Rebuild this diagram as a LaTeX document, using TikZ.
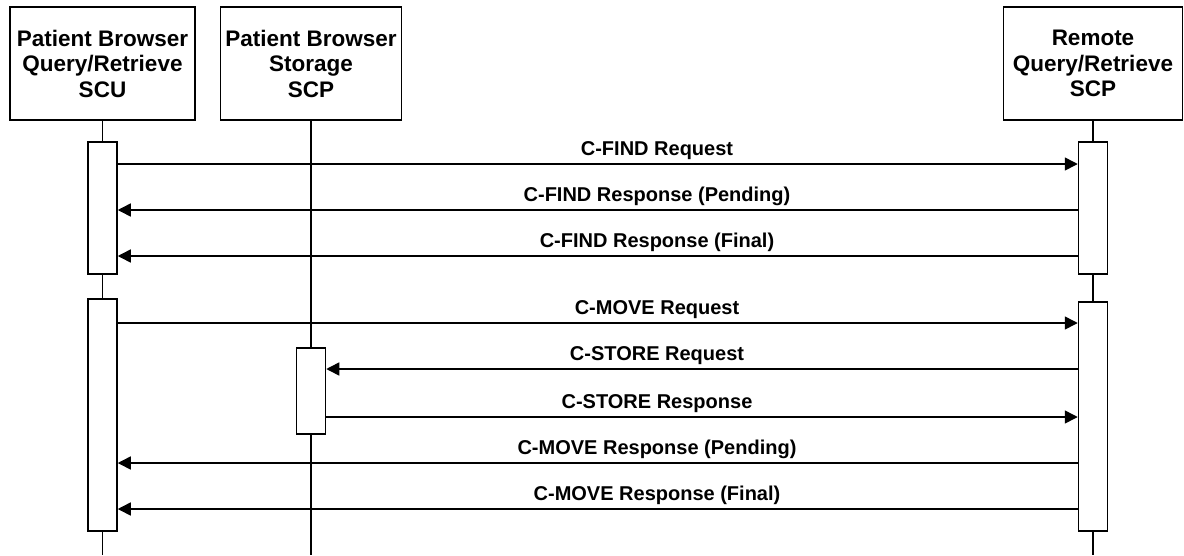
\documentclass[tikz,border=0pt]{standalone}
\usepackage{fontspec}
\setmainfont{Liberation Sans}
\usetikzlibrary{arrows.meta}

\begin{document}
\begin{tikzpicture}[
              x=1pt, y=-1pt,
              line width=1.5pt,
              actor/.style={
                  draw,
                  rectangle,
                  minimum height=113pt,
                  inner sep=0pt,
                  align=center,
                  font=\fontsize{22.5}{25.5}\selectfont\bfseries,
                },
              act/.style={draw, fill=white, minimum width=29pt, inner sep=0pt},
              msg/.style={-{Triangle[length=13pt,width=13pt]}},
              msglabel/.style={anchor=base, inner sep=0pt, font=\fontsize{20}{24}\selectfont\bfseries}
            ]
            \useasboundingbox (0,0) rectangle (1184,555);
            \node[actor,minimum width=185pt] (scu) at (102.5,63.5) {Patient Browser\\Query/Retrieve\\SCU};
            \node[actor,minimum width=181pt] (store) at (311,63.5) {Patient Browser\\Storage\\SCP};
            \node[actor,minimum width=179pt] (remote) at (1093,63.5) {Remote\\Query/Retrieve\\SCP};
            \foreach \Name in {scu,store,remote}
            \draw (\Name.south) -- (\Name.south |- 0,555);
            \node[act,minimum height=132pt] (scuA) at (scu |- 0,208) {};
            \node[act,minimum height=232pt] (scuB) at (scu |- 0,415) {};
            \node[act,minimum height=86pt] (storeA) at (store |- 0,391) {};
            \node[act,minimum height=132pt] (remA) at (remote |- 0,208) {};
            \node[act,minimum height=229pt] (remB) at (remote |- 0,416.5) {};
            \foreach \Src/\Dst/\Y/\Text in {
                scuA.east/remA.west/164/C-FIND Request,
                remA.west/scuA.east/210/C-FIND Response (Pending),
                remA.west/scuA.east/256/C-FIND Response (Final),
                scuB.east/remB.west/323/C-MOVE Request,
                remB.west/storeA.east/369/C-STORE Request,
                storeA.east/remB.west/417/C-STORE Response,
                remB.west/scuB.east/463/C-MOVE Response (Pending),
                remB.west/scuB.east/509/C-MOVE Response (Final)}
            {
              \draw[msg] (\Src |- 0,\Y) -- (\Dst |- 0,\Y);
              \node[msglabel] (lbl\Y) at (657,\Y-9) {\Text};
            }
          \end{tikzpicture}
\end{document}
